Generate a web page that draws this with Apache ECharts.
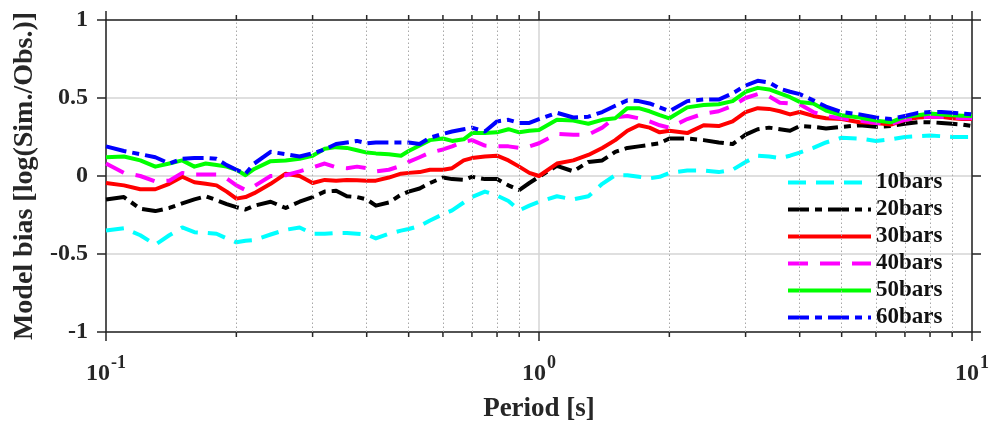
<!DOCTYPE html>
<html>
<head>
<meta charset="utf-8">
<script src="https://cdn.jsdelivr.net/npm/echarts@6/dist/echarts.min.js"></script>
<style>
  html, body { margin: 0; padding: 0; background: #ffffff; }
  #chart { width: 1003px; height: 423px; }
</style>
</head>
<body>
<div id="chart"></div>
<script>
// Spectral periods (s)
const periods = [
  0.10, 0.11, 0.12, 0.13, 0.14, 0.15, 0.16, 0.17, 0.18, 0.19,
  0.20, 0.21, 0.22, 0.24, 0.26, 0.28, 0.30, 0.32, 0.34, 0.36,
  0.38, 0.40, 0.42, 0.45, 0.48, 0.50, 0.53, 0.56, 0.60, 0.63,
  0.67, 0.70, 0.75, 0.80, 0.85, 0.90, 0.95, 1.0, 1.1, 1.2,
  1.3, 1.4, 1.5, 1.6, 1.7, 1.8, 1.9, 2.0, 2.2, 2.4,
  2.6, 2.8, 3.0, 3.2, 3.4, 3.6, 3.8, 4.0, 4.3, 4.6,
  5.0, 5.5, 6.0, 6.5, 7.0, 7.5, 8.0, 8.5, 9.0, 9.5, 10
];

// Model bias log10(Sim./Obs.) for each stress-drop scenario
const bias10bars = [
  -0.35, -0.335, -0.38, -0.44, -0.38, -0.33, -0.36, -0.365, -0.37, -0.40,
  -0.425, -0.415, -0.41, -0.375, -0.345, -0.33, -0.37, -0.37, -0.365, -0.365,
  -0.37, -0.375, -0.40, -0.37, -0.35, -0.34, -0.32, -0.285, -0.245, -0.22,
  -0.17, -0.135, -0.10, -0.125, -0.16, -0.22, -0.19, -0.165, -0.13, -0.15,
  -0.13, -0.05, 0.005, 0.005, -0.005, -0.015, -0.005, 0.02, 0.035, 0.035,
  0.025, 0.04, 0.09, 0.13, 0.125, 0.115, 0.13, 0.15, 0.18, 0.215,
  0.245, 0.24, 0.225, 0.235, 0.25, 0.255, 0.26, 0.255, 0.25, 0.25, 0.25
];
const bias20bars = [
  -0.15, -0.135, -0.21, -0.225, -0.205, -0.175, -0.15, -0.13, -0.155, -0.18,
  -0.20, -0.215, -0.19, -0.165, -0.205, -0.165, -0.135, -0.10, -0.095, -0.13,
  -0.135, -0.15, -0.19, -0.17, -0.12, -0.10, -0.08, -0.045, -0.01, -0.02,
  -0.025, -0.005, -0.02, -0.02, -0.06, -0.09, -0.045, -0.005, 0.065, 0.03,
  0.09, 0.10, 0.155, 0.18, 0.19, 0.20, 0.21, 0.24, 0.24, 0.23,
  0.215, 0.205, 0.265, 0.30, 0.31, 0.30, 0.29, 0.32, 0.315, 0.305,
  0.315, 0.325, 0.315, 0.32, 0.335, 0.345, 0.345, 0.34, 0.335, 0.33, 0.32
];
const bias30bars = [
  -0.045, -0.06, -0.085, -0.085, -0.05, -0.005, -0.04, -0.05, -0.06, -0.10,
  -0.145, -0.135, -0.11, -0.05, 0.015, 0.0, -0.045, -0.025, -0.03, -0.025,
  -0.028, -0.03, -0.03, -0.01, 0.015, 0.02, 0.025, 0.04, 0.04, 0.05,
  0.10, 0.115, 0.125, 0.13, 0.10, 0.06, 0.02, 0.0, 0.08, 0.10,
  0.135, 0.18, 0.23, 0.29, 0.325, 0.31, 0.28, 0.29, 0.275, 0.325,
  0.32, 0.35, 0.41, 0.435, 0.43, 0.415, 0.395, 0.41, 0.385, 0.37,
  0.365, 0.345, 0.34, 0.33, 0.36, 0.375, 0.38, 0.38, 0.37, 0.365, 0.365
];
const bias40bars = [
  0.08, 0.02, 0.0, -0.035, -0.03, 0.02, 0.01, 0.01, 0.01, -0.015,
  -0.06, -0.09, -0.065, 0.0, 0.005, 0.03, 0.055, 0.08, 0.055, 0.05,
  0.06, 0.05, 0.03, 0.04, 0.065, 0.09, 0.12, 0.15, 0.17, 0.19,
  0.22, 0.23, 0.195, 0.19, 0.19, 0.18, 0.19, 0.21, 0.27, 0.265,
  0.265, 0.31, 0.375, 0.385, 0.37, 0.35, 0.325, 0.31, 0.365, 0.40,
  0.415, 0.45, 0.50, 0.525, 0.51, 0.47, 0.465, 0.46, 0.41, 0.385,
  0.37, 0.355, 0.34, 0.335, 0.36, 0.375, 0.38, 0.38, 0.375, 0.37, 0.37
];
const bias50bars = [
  0.12, 0.125, 0.10, 0.06, 0.08, 0.10, 0.06, 0.08, 0.07, 0.06,
  0.04, 0.005, 0.045, 0.095, 0.10, 0.11, 0.13, 0.175, 0.185, 0.18,
  0.165, 0.15, 0.145, 0.14, 0.13, 0.16, 0.195, 0.23, 0.24, 0.225,
  0.235, 0.275, 0.275, 0.28, 0.30, 0.28, 0.29, 0.295, 0.36, 0.355,
  0.335, 0.36, 0.37, 0.435, 0.435, 0.415, 0.39, 0.37, 0.44, 0.455,
  0.46, 0.48, 0.54, 0.565, 0.555, 0.53, 0.505, 0.475, 0.465, 0.42,
  0.39, 0.375, 0.355, 0.345, 0.38, 0.39, 0.40, 0.395, 0.39, 0.387, 0.385
];
const bias60bars = [
  0.19, 0.16, 0.14, 0.12, 0.08, 0.11, 0.115, 0.115, 0.11, 0.07,
  0.04, 0.015, 0.08, 0.155, 0.14, 0.125, 0.145, 0.17, 0.205, 0.215,
  0.225, 0.21, 0.215, 0.215, 0.215, 0.215, 0.205, 0.245, 0.27, 0.285,
  0.30, 0.31, 0.285, 0.35, 0.36, 0.34, 0.34, 0.365, 0.405, 0.375,
  0.38, 0.41, 0.45, 0.485, 0.48, 0.465, 0.44, 0.415, 0.48, 0.49,
  0.49, 0.53, 0.58, 0.61, 0.60, 0.56, 0.54, 0.525, 0.485, 0.445,
  0.41, 0.395, 0.375, 0.365, 0.385, 0.405, 0.41, 0.41, 0.405, 0.40, 0.395
];

const seriesNames = ['10bars', '20bars', '30bars', '40bars', '50bars', '60bars'];
const seriesValues = [bias10bars, bias20bars, bias30bars, bias40bars, bias50bars, bias60bars];

// Axis ticks
const yTicks = [-1, -0.5, 0, 0.5, 1];
const xMinorTicks = [0.2, 0.3, 0.4, 0.5, 0.6, 0.7, 0.8, 0.9, 2, 3, 4, 5, 6, 7, 8, 9];

const lineColors = ['#00ffff', '#000000', '#ff0000', '#ff00ff', '#00ff00', '#0000ff'];
const lineDashes = [[18, 10], [21, 6, 7, 6], 'solid', [20, 12], 'solid', [21, 6, 7, 6]];

const FONT = 'Liberation Serif';
const INK = '#262626';

const chart = echarts.init(document.getElementById('chart'), null, { renderer: 'canvas' });

const grid = { left: 106, right: 31, top: 20, bottom: 91, containLabel: false, outerBoundsMode: 'none' };

function logAxis(extra) {
  return Object.assign({
    type: 'log',
    logBase: 10,
    min: 0.1,
    max: 10,
    gridIndex: 0,
    axisLine: { show: true, onZero: false, lineStyle: { color: INK, width: 1.5 } },
    axisTick: { show: true, inside: false, length: 9, lineStyle: { color: INK, width: 1.5 } },
    axisLabel: { show: false },
    splitLine: { show: false }
  }, extra);
}

const xAxes = [
  logAxis({
    position: 'bottom',
    splitLine: { show: true, lineStyle: { color: '#d4d4d4', width: 1.5 } },
    axisLabel: {
      show: true,
      margin: 22,
      formatter: function (v) {
        const e = Math.round(Math.log10(v));
        return '{b|10}{s|' + (e < 0 ? '-' : '') + Math.abs(e) + '}';
      },
      rich: {
        b: { fontFamily: FONT, fontWeight: 'bold', fontSize: 24, color: INK, lineHeight: 24, verticalAlign: 'top', padding: [8, 0, 0, 0] },
        s: { fontFamily: FONT, fontWeight: 'bold', fontSize: 18, color: INK, lineHeight: 18, verticalAlign: 'top', padding: [0, 0, 0, 1] }
      }
    },
    name: 'Period [s]',
    nameLocation: 'middle',
    nameGap: 64,
    nameMoveOverlap: false,
    nameTextStyle: { fontFamily: FONT, fontWeight: 'bold', fontSize: 27, color: INK }
  }),
  logAxis({ position: 'top' })
];

function valueAxis(extra) {
  return Object.assign({
    type: 'value',
    min: yTicks[0],
    max: yTicks[yTicks.length - 1],
    interval: 0.5,
    gridIndex: 0,
    axisLine: { show: true, onZero: false, lineStyle: { color: INK, width: 1.5 } },
    axisTick: { show: true, inside: false, length: 9, lineStyle: { color: INK, width: 1.5 } },
    splitLine: { show: false },
    axisLabel: { show: false }
  }, extra);
}

const yAxes = [
  valueAxis({
    position: 'left',
    splitLine: { show: true, lineStyle: { color: '#d4d4d4', width: 1.5 } },
    axisLabel: {
      show: true,
      margin: 18,
      fontFamily: FONT,
      fontWeight: 'bold',
      fontSize: 24,
      color: INK,
      formatter: function (v) { return String(v); }
    },
    name: 'Model bias [log(Sim./Obs.)]',
    nameLocation: 'middle',
    nameGap: 67,
    nameRotate: 90,
    nameMoveOverlap: false,
    nameTextStyle: { fontFamily: FONT, fontWeight: 'bold', fontSize: 28, color: INK }
  }),
  valueAxis({ position: 'right' })
];

// Dotted minor grid lines at 2..9 of each decade
const minorGrid = {
  name: '_minorGrid',
  type: 'line',
  data: [],
  silent: true,
  z: 1,
  markLine: {
    silent: true,
    symbol: ['none', 'none'],
    label: { show: false },
    lineStyle: { type: [1.5, 2.5], color: '#a8a8a8', width: 1 },
    data: xMinorTicks.map(function (t) { return { xAxis: t }; })
  }
};

const dataSeries = seriesNames.map(function (name, k) {
  return {
    name: name,
    type: 'line',
    xAxisIndex: 0,
    yAxisIndex: 0,
    symbol: 'none',
    smooth: false,
    z: 3,
    color: lineColors[k],
    lineStyle: { color: lineColors[k], width: 4, type: lineDashes[k], cap: 'butt', join: 'round' },
    data: periods.map(function (t, i) { return [t, seriesValues[k][i]]; })
  };
});

chart.setOption({
  animation: false,
  backgroundColor: '#ffffff',
  grid: grid,
  xAxis: xAxes,
  yAxis: yAxes,
  legend: {
    data: seriesNames,
    orient: 'vertical',
    left: 786,
    top: 171,
    itemWidth: 83,
    itemHeight: 14,
    itemGap: 4,
    padding: 0,
    itemStyle: { opacity: 0 },
    lineStyle: { width: 4 },
    textStyle: { fontFamily: FONT, fontWeight: 'bold', fontSize: 23, color: '#111111' }
  },
  series: [minorGrid].concat(dataSeries)
});

// Short outward minor ticks on the bottom and top frame, placed by the axis scales
const yBottom = chart.convertToPixel({ yAxisIndex: 0 }, yTicks[0]);
const yTop = chart.convertToPixel({ yAxisIndex: 0 }, yTicks[yTicks.length - 1]);
const minorTickMarks = [];
xMinorTicks.forEach(function (t) {
  const x = chart.convertToPixel({ xAxisIndex: 0 }, t);
  minorTickMarks.push({
    type: 'line', silent: true, z: 10,
    shape: { x1: x, y1: yBottom, x2: x, y2: yBottom + 5 },
    style: { stroke: INK, lineWidth: 1.5 }
  });
  minorTickMarks.push({
    type: 'line', silent: true, z: 10,
    shape: { x1: x, y1: yTop, x2: x, y2: yTop - 5 },
    style: { stroke: INK, lineWidth: 1.5 }
  });
});
chart.setOption({ graphic: minorTickMarks });
</script>
</body>
</html>
